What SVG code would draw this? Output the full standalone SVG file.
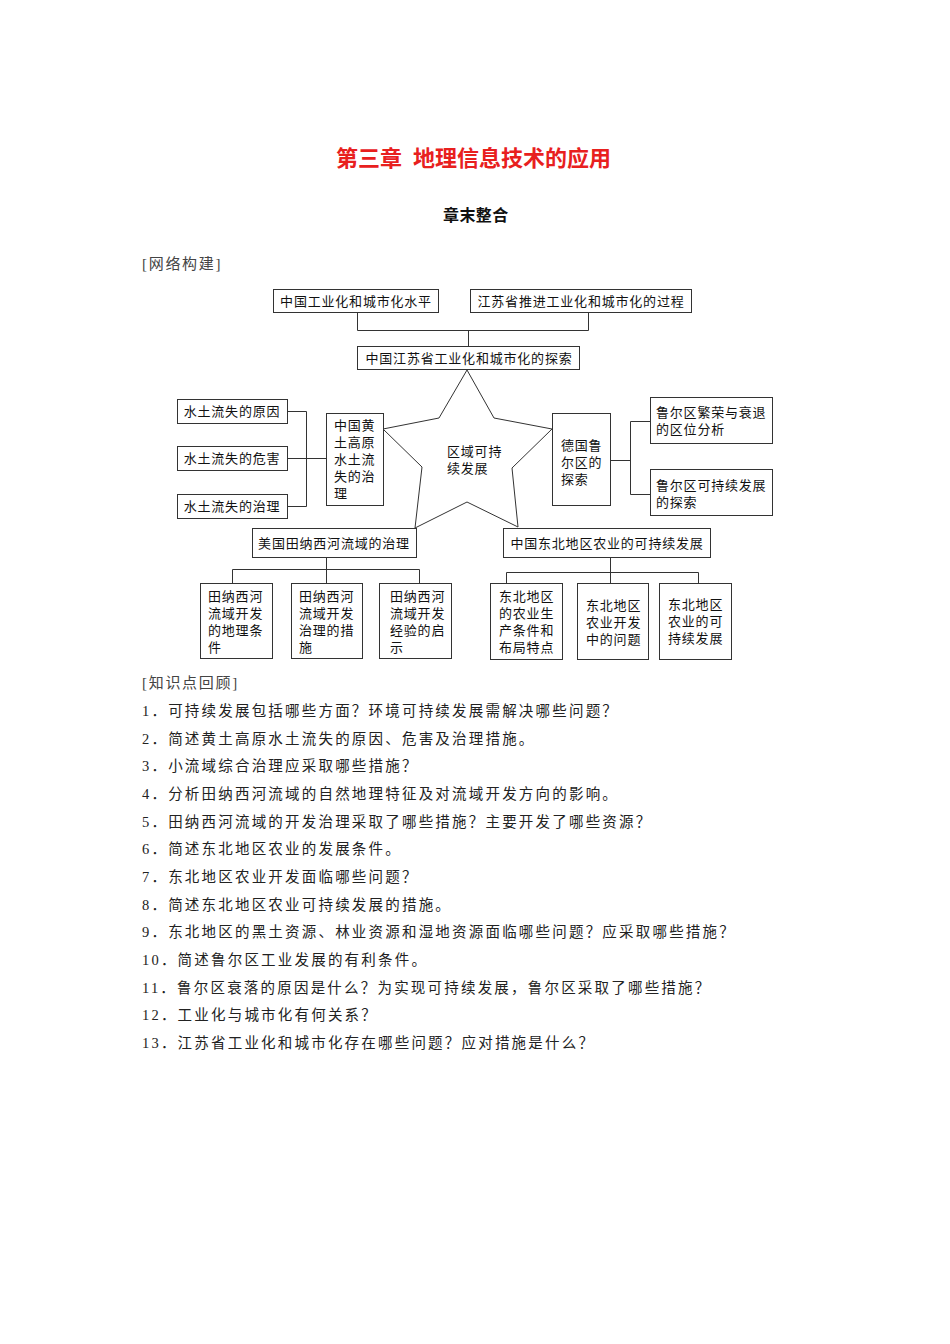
<svg xmlns="http://www.w3.org/2000/svg" width="950" height="1344" viewBox="0 0 950 1344">
<style>
.bg{fill:#ffffff}
.box{fill:#ffffff;stroke:#333;stroke-width:1}
.conn{fill:none;stroke:#333;stroke-width:1}
.t{font-family:"Liberation Serif","Noto Sans CJK SC",serif;font-size:13px;fill:#111;letter-spacing:0.8px}
.q{font-family:"Liberation Serif","Noto Sans CJK SC",serif;font-size:14.5px;fill:#222;letter-spacing:2.2px}
.h{font-family:"Liberation Serif","Noto Sans CJK SC",serif;font-size:15px;fill:#444;letter-spacing:1.7px}
.title{font-family:"Noto Sans CJK SC",sans-serif;font-size:22px;font-weight:bold;fill:#e8201e}
.sub{font-family:"Noto Sans CJK SC",sans-serif;font-size:16px;font-weight:bold;fill:#111;letter-spacing:0.4px}
</style>
<rect class="bg" x="0" y="0" width="950" height="1344"/>

<g id="heading">
<text class="title" x="336" y="166">第三章</text>
<text class="title" x="413" y="166">地理信息技术的应用</text>
<text class="sub" x="443" y="221">章末整合</text>
<text class="h" x="142" y="269">[网络构建]</text>
</g>

<g id="connectors">
<polyline class="conn" points="357.5,312 357.5,330.5 588.5,330.5 588.5,312"/>
<line class="conn" x1="468.5" y1="330.5" x2="468.5" y2="346"/>
<polyline class="conn" points="287,411.5 306.5,411.5 306.5,506.5 287,506.5"/>
<line class="conn" x1="287" y1="458.5" x2="326" y2="458.5"/>
<line class="conn" x1="611" y1="460.5" x2="630.5" y2="460.5"/>
<polyline class="conn" points="650,421.5 630.5,421.5 630.5,494.5 650,494.5"/>
<line class="conn" x1="326.5" y1="557" x2="326.5" y2="569.5"/>
<polyline class="conn" points="232.5,583 232.5,569.5 419.5,569.5 419.5,583"/>
<line class="conn" x1="326.5" y1="569.5" x2="326.5" y2="583"/>
<line class="conn" x1="610.5" y1="557" x2="610.5" y2="583"/>
<polyline class="conn" points="506.5,583 506.5,572.5 698.5,572.5 698.5,583"/>
</g>

<g id="n-china-level">
<rect class="box" x="273.5" y="289.5" width="165" height="23"/>
<text class="t" x="356" y="306" text-anchor="middle">中国工业化和城市化水平</text>
</g>
<g id="n-jiangsu-process">
<rect class="box" x="470.5" y="289.5" width="221" height="23"/>
<text class="t" x="581" y="306" text-anchor="middle">江苏省推进工业化和城市化的过程</text>
</g>
<g id="n-jiangsu-explore">
<rect class="box" x="357.5" y="346.5" width="222" height="23"/>
<text class="t" x="469" y="363" text-anchor="middle">中国江苏省工业化和城市化的探索</text>
</g>

<g id="n-star">
<polygon class="box" points="467,370 494,418 552,429 512,468 518,527 467,502 415,528 422,467 383,429 439,418"/>
<text class="t" x="447" y="456">区域可持</text>
<text class="t" x="447" y="473">续发展</text>
</g>

<g id="n-cause">
<rect class="box" x="177.5" y="399.5" width="110" height="24"/>
<text class="t" x="232" y="416" text-anchor="middle">水土流失的原因</text>
</g>
<g id="n-harm">
<rect class="box" x="177.5" y="446.5" width="110" height="24"/>
<text class="t" x="232" y="463" text-anchor="middle">水土流失的危害</text>
</g>
<g id="n-control">
<rect class="box" x="177.5" y="494.5" width="110" height="24"/>
<text class="t" x="232" y="511" text-anchor="middle">水土流失的治理</text>
</g>
<g id="n-loess">
<rect class="box" x="326.5" y="413.5" width="57" height="92"/>
<text class="t" x="334" y="430">中国黄</text>
<text class="t" x="334" y="447">土高原</text>
<text class="t" x="334" y="464">水土流</text>
<text class="t" x="334" y="481">失的治</text>
<text class="t" x="334" y="498">理</text>
</g>

<g id="n-ruhr">
<rect class="box" x="552.5" y="413.5" width="58" height="92"/>
<text class="t" x="561" y="450">德国鲁</text>
<text class="t" x="561" y="467">尔区的</text>
<text class="t" x="561" y="484">探索</text>
</g>
<g id="n-ruhr-analysis">
<rect class="box" x="650.5" y="397.5" width="122" height="46"/>
<text class="t" x="656" y="417">鲁尔区繁荣与衰退</text>
<text class="t" x="656" y="434">的区位分析</text>
</g>
<g id="n-ruhr-sustain">
<rect class="box" x="650.5" y="469.5" width="122" height="46"/>
<text class="t" x="656" y="490">鲁尔区可持续发展</text>
<text class="t" x="656" y="507">的探索</text>
</g>

<g id="n-tva">
<rect class="box" x="252.5" y="528.5" width="164" height="29"/>
<text class="t" x="334" y="548" text-anchor="middle">美国田纳西河流域的治理</text>
</g>
<g id="n-northeast">
<rect class="box" x="503.5" y="528.5" width="207" height="29"/>
<text class="t" x="607" y="548" text-anchor="middle">中国东北地区农业的可持续发展</text>
</g>

<g id="n-tva-1">
<rect class="box" x="200.5" y="583.5" width="72" height="75"/>
<text class="t" x="208" y="601">田纳西河</text>
<text class="t" x="208" y="618">流域开发</text>
<text class="t" x="208" y="635">的地理条</text>
<text class="t" x="208" y="652">件</text>
</g>
<g id="n-tva-2">
<rect class="box" x="291.5" y="583.5" width="71" height="75"/>
<text class="t" x="299" y="601">田纳西河</text>
<text class="t" x="299" y="618">流域开发</text>
<text class="t" x="299" y="635">治理的措</text>
<text class="t" x="299" y="652">施</text>
</g>
<g id="n-tva-3">
<rect class="box" x="379.5" y="583.5" width="72" height="75"/>
<text class="t" x="390" y="601">田纳西河</text>
<text class="t" x="390" y="618">流域开发</text>
<text class="t" x="390" y="635">经验的启</text>
<text class="t" x="390" y="652">示</text>
</g>

<g id="n-ne-1">
<rect class="box" x="490.5" y="583.5" width="72" height="76"/>
<text class="t" x="499" y="601">东北地区</text>
<text class="t" x="499" y="618">的农业生</text>
<text class="t" x="499" y="635">产条件和</text>
<text class="t" x="499" y="652">布局特点</text>
</g>
<g id="n-ne-2">
<rect class="box" x="577.5" y="583.5" width="71" height="76"/>
<text class="t" x="586" y="610">东北地区</text>
<text class="t" x="586" y="627">农业开发</text>
<text class="t" x="586" y="644">中的问题</text>
</g>
<g id="n-ne-3">
<rect class="box" x="659.5" y="583.5" width="72" height="76"/>
<text class="t" x="668" y="609">东北地区</text>
<text class="t" x="668" y="626">农业的可</text>
<text class="t" x="668" y="643">持续发展</text>
</g>

<g id="review">
<text class="h" x="142" y="688">[知识点回顾]</text>
<text class="q" x="142" y="716">1．可持续发展包括哪些方面？环境可持续发展需解决哪些问题？</text>
<text class="q" x="142" y="744">2．简述黄土高原水土流失的原因、危害及治理措施。</text>
<text class="q" x="142" y="771">3．小流域综合治理应采取哪些措施？</text>
<text class="q" x="142" y="799">4．分析田纳西河流域的自然地理特征及对流域开发方向的影响。</text>
<text class="q" x="142" y="827">5．田纳西河流域的开发治理采取了哪些措施？主要开发了哪些资源？</text>
<text class="q" x="142" y="854">6．简述东北地区农业的发展条件。</text>
<text class="q" x="142" y="882">7．东北地区农业开发面临哪些问题？</text>
<text class="q" x="142" y="910">8．简述东北地区农业可持续发展的措施。</text>
<text class="q" x="142" y="937">9．东北地区的黑土资源、林业资源和湿地资源面临哪些问题？应采取哪些措施？</text>
<text class="q" x="142" y="965">10．简述鲁尔区工业发展的有利条件。</text>
<text class="q" x="142" y="993">11．鲁尔区衰落的原因是什么？为实现可持续发展，鲁尔区采取了哪些措施？</text>
<text class="q" x="142" y="1020">12．工业化与城市化有何关系？</text>
<text class="q" x="142" y="1048">13．江苏省工业化和城市化存在哪些问题？应对措施是什么？</text>
</g>
</svg>
